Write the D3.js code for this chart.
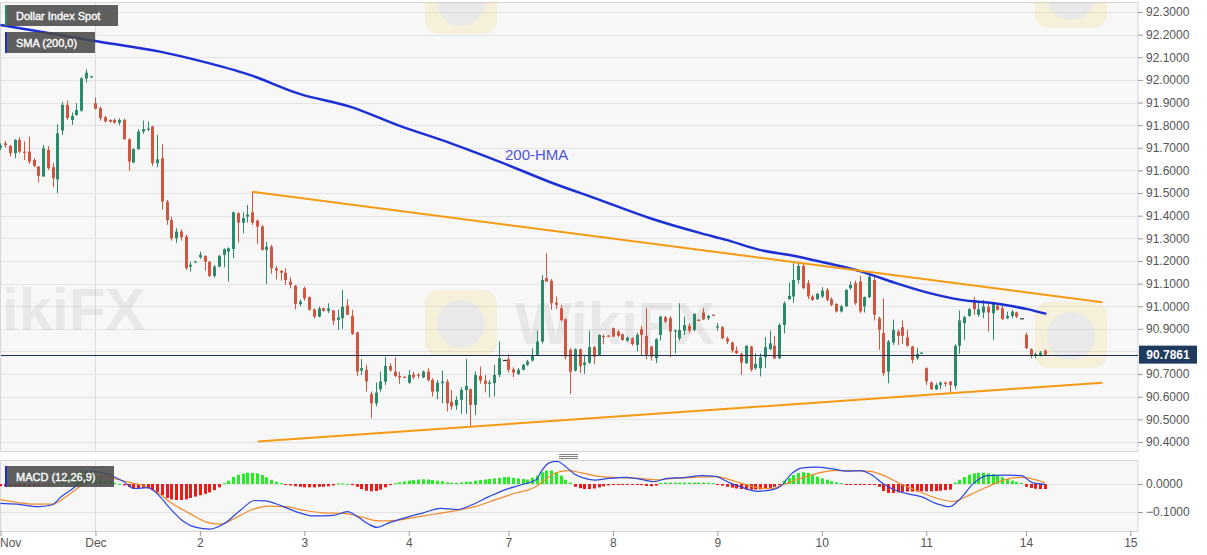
<!DOCTYPE html>
<html>
<head>
<meta charset="utf-8">
<script src="https://cdn.jsdelivr.net/npm/d3@7"></script>
<style>
  body { margin: 0; background: #fff; }
</style>
</head>
<body>
<div id="chart"></div>
<script>
// hourly bars, index 0 = first visible bar (30 Nov) ; [open, high, low, close]
const ohlc = [
  [91.700, 91.720, 91.690, 91.710], [91.720, 91.730, 91.700, 91.712], [91.708, 91.713, 91.661, 91.676], [91.676, 91.738, 91.654, 91.735],
  [91.735, 91.747, 91.676, 91.683], [91.683, 91.728, 91.646, 91.680], [91.683, 91.750, 91.629, 91.639], [91.646, 91.654, 91.614, 91.620],
  [91.617, 91.620, 91.548, 91.576], [91.573, 91.713, 91.573, 91.698], [91.691, 91.708, 91.602, 91.610], [91.614, 91.632, 91.526, 91.565],
  [91.561, 91.804, 91.499, 91.764], [91.776, 91.904, 91.757, 91.890], [91.890, 91.909, 91.823, 91.831], [91.823, 91.856, 91.801, 91.841],
  [91.845, 91.897, 91.841, 91.867], [91.864, 92.012, 91.860, 92.007], [92.006, 92.047, 91.988, 92.032], [92.012, 92.018, 92.010, 92.016],
  // 1 Dec
  [91.897, 91.922, 91.870, 91.872], [91.875, 91.882, 91.820, 91.831], [91.835, 91.841, 91.811, 91.817], [91.823, 91.826, 91.811, 91.815],
  [91.823, 91.830, 91.806, 91.811], [91.811, 91.830, 91.800, 91.823], [91.823, 91.830, 91.735, 91.738], [91.738, 91.742, 91.599, 91.639],
  [91.635, 91.698, 91.632, 91.694], [91.694, 91.782, 91.691, 91.772], [91.772, 91.820, 91.761, 91.783], [91.780, 91.816, 91.773, 91.785],
  [91.794, 91.797, 91.620, 91.632], [91.632, 91.757, 91.614, 91.649], [91.654, 91.716, 91.426, 91.462], [91.462, 91.470, 91.360, 91.380],
  [91.380, 91.395, 91.290, 91.300], [91.300, 91.345, 91.280, 91.330], [91.330, 91.340, 91.290, 91.305], [91.308, 91.315, 91.160, 91.168],
  [91.175, 91.197, 91.153, 91.183], [91.196, 91.200, 91.194, 91.198],
  // 2 Dec
  [91.216, 91.241, 91.209, 91.227], [91.222, 91.225, 91.158, 91.197], [91.197, 91.200, 91.130, 91.134], [91.134, 91.182, 91.126, 91.175],
  [91.175, 91.227, 91.172, 91.222], [91.227, 91.256, 91.172, 91.252], [91.241, 91.260, 91.109, 91.256], [91.253, 91.418, 91.212, 91.415],
  [91.411, 91.415, 91.281, 91.369], [91.369, 91.415, 91.322, 91.389], [91.396, 91.447, 91.369, 91.406], [91.415, 91.506, 91.359, 91.369],
  [91.378, 91.384, 91.275, 91.352], [91.352, 91.359, 91.246, 91.249], [91.249, 91.285, 91.098, 91.263], [91.263, 91.271, 91.143, 91.168],
  [91.168, 91.178, 91.119, 91.157], [91.156, 91.160, 91.113, 91.148], [91.148, 91.168, 91.094, 91.116], [91.109, 91.128, 91.079, 91.094],
  [91.090, 91.094, 90.986, 91.010], [91.009, 91.030, 91.000, 91.020],
  // 3 Dec
  [91.079, 91.087, 91.025, 91.035], [91.040, 91.043, 90.981, 90.984], [90.986, 90.991, 90.947, 90.954], [90.954, 90.998, 90.951, 90.991],
  [90.991, 90.994, 90.976, 90.979], [90.980, 91.013, 90.970, 90.990], [90.981, 90.984, 90.917, 90.936], [90.940, 90.984, 90.895, 90.950],
  [90.947, 91.072, 90.900, 90.998], [91.003, 91.031, 90.961, 90.962], [90.957, 90.984, 90.873, 90.878], [90.884, 90.888, 90.692, 90.711],
  [90.716, 90.766, 90.697, 90.726], [90.719, 90.741, 90.623, 90.667], [90.612, 90.623, 90.505, 90.571], [90.571, 90.663, 90.557, 90.618],
  [90.633, 90.711, 90.623, 90.667], [90.667, 90.777, 90.652, 90.736], [90.736, 90.748, 90.711, 90.716], [90.711, 90.774, 90.686, 90.692],
  [90.692, 90.711, 90.657, 90.685], [90.688, 90.690, 90.683, 90.686],
  // 4 Dec
  [90.662, 90.718, 90.657, 90.696], [90.698, 90.711, 90.677, 90.686], [90.698, 90.704, 90.682, 90.694], [90.686, 90.716, 90.682, 90.711],
  [90.711, 90.726, 90.667, 90.674], [90.674, 90.682, 90.601, 90.623], [90.623, 90.674, 90.589, 90.662], [90.660, 90.716, 90.571, 90.667],
  [90.667, 90.677, 90.535, 90.571], [90.578, 90.630, 90.542, 90.557], [90.561, 90.601, 90.542, 90.586], [90.586, 90.642, 90.524, 90.630],
  [90.630, 90.766, 90.524, 90.648], [90.633, 90.637, 90.471, 90.564], [90.564, 90.711, 90.520, 90.696], [90.692, 90.733, 90.657, 90.671],
  [90.671, 90.696, 90.619, 90.657], [90.657, 90.674, 90.598, 90.663], [90.660, 90.741, 90.601, 90.696], [90.696, 90.844, 90.686, 90.770],
  [90.763, 90.763, 90.763, 90.763],
  // 7 Dec
  [90.766, 90.788, 90.707, 90.719], [90.721, 90.730, 90.686, 90.707], [90.701, 90.726, 90.696, 90.719], [90.719, 90.745, 90.716, 90.741],
  [90.741, 90.763, 90.736, 90.756], [90.760, 90.814, 90.755, 90.785], [90.785, 90.892, 90.785, 90.844], [90.844, 91.138, 90.836, 91.116],
  [91.124, 91.234, 91.109, 91.109], [91.112, 91.120, 90.984, 91.013], [91.016, 91.043, 90.987, 91.006], [90.991, 91.006, 90.932, 90.939],
  [90.942, 90.947, 90.766, 90.777], [90.807, 90.814, 90.612, 90.711], [90.716, 90.814, 90.711, 90.810], [90.810, 90.814, 90.704, 90.736],
  [90.741, 90.785, 90.701, 90.751], [90.751, 90.892, 90.745, 90.819], [90.819, 90.825, 90.745, 90.777], [90.785, 90.876, 90.780, 90.873],
  [90.869, 90.876, 90.833, 90.863], [90.870, 90.872, 90.865, 90.868],
  // 8 Dec
  [90.903, 90.906, 90.863, 90.866], [90.888, 90.895, 90.863, 90.869], [90.876, 90.880, 90.847, 90.851], [90.848, 90.866, 90.844, 90.861],
  [90.858, 90.863, 90.825, 90.833], [90.829, 90.883, 90.800, 90.873], [90.898, 90.913, 90.785, 90.873], [90.869, 90.991, 90.766, 90.785],
  [90.822, 90.825, 90.760, 90.777], [90.770, 90.858, 90.748, 90.854], [90.873, 90.957, 90.848, 90.954], [90.951, 90.957, 90.925, 90.932],
  [90.947, 90.957, 90.774, 90.888], [90.888, 90.898, 90.792, 90.893], [90.858, 91.013, 90.848, 90.895], [90.892, 90.954, 90.873, 90.917],
  [90.913, 90.925, 90.880, 90.892], [90.895, 90.969, 90.888, 90.966], [90.940, 90.944, 90.934, 90.938], [90.972, 90.991, 90.939, 90.942],
  [90.947, 90.961, 90.939, 90.957], [90.962, 90.964, 90.958, 90.961],
  // 9 Dec
  [90.907, 90.925, 90.892, 90.911], [90.907, 90.913, 90.854, 90.858], [90.858, 90.866, 90.833, 90.844], [90.840, 90.844, 90.795, 90.804],
  [90.804, 90.822, 90.789, 90.792], [90.789, 90.795, 90.697, 90.751], [90.748, 90.828, 90.745, 90.825], [90.822, 90.825, 90.711, 90.719],
  [90.726, 90.792, 90.719, 90.745], [90.726, 90.792, 90.689, 90.774], [90.774, 90.863, 90.726, 90.819], [90.810, 90.892, 90.807, 90.836],
  [90.825, 90.869, 90.766, 90.770], [90.770, 90.925, 90.766, 90.917], [90.917, 91.021, 90.880, 91.013], [91.031, 91.105, 91.028, 91.046],
  [91.043, 91.190, 91.016, 91.116], [91.116, 91.190, 91.100, 91.178], [91.178, 91.190, 91.075, 91.080], [91.102, 91.116, 91.031, 91.043],
  [91.043, 91.050, 91.024, 91.028], [91.031, 91.058, 91.028, 91.055],
  // 10 Dec
  [91.043, 91.084, 91.036, 91.069], [91.072, 91.080, 91.021, 91.028], [91.031, 91.040, 90.999, 91.006], [91.010, 91.013, 90.972, 90.977],
  [90.977, 91.006, 90.972, 90.999], [90.999, 91.075, 90.999, 91.072], [91.080, 91.109, 91.072, 91.094], [91.102, 91.113, 91.006, 91.013],
  [91.109, 91.134, 90.969, 90.977], [90.999, 91.043, 90.972, 91.040], [91.040, 91.138, 91.036, 91.131], [91.116, 91.138, 90.937, 90.962],
  [90.947, 90.954, 90.807, 90.896], [90.881, 91.035, 90.692, 90.704], [90.711, 90.851, 90.660, 90.844], [90.840, 90.940, 90.829, 90.895],
  [90.888, 90.898, 90.829, 90.869], [90.907, 90.937, 90.833, 90.869], [90.863, 90.896, 90.822, 90.825], [90.822, 90.825, 90.748, 90.763],
  [90.770, 90.815, 90.763, 90.789], [90.791, 90.797, 90.789, 90.795],
  // 11 Dec
  [90.726, 90.730, 90.652, 90.667], [90.663, 90.667, 90.630, 90.633], [90.633, 90.660, 90.630, 90.652], [90.652, 90.667, 90.633, 90.663],
  [90.663, 90.667, 90.645, 90.657], [90.667, 90.670, 90.612, 90.652], [90.648, 90.832, 90.633, 90.825], [90.825, 90.981, 90.789, 90.937],
  [90.925, 90.957, 90.851, 90.951], [90.957, 90.991, 90.954, 90.987], [91.028, 91.040, 90.962, 90.987], [90.962, 91.021, 90.954, 90.987],
  [90.972, 91.028, 90.947, 90.999], [90.996, 91.013, 90.888, 90.972], [90.969, 91.016, 90.851, 91.010], [91.002, 91.013, 90.981, 90.984],
  [90.991, 91.010, 90.940, 90.943], [90.947, 90.976, 90.943, 90.957], [90.957, 90.984, 90.947, 90.976], [90.972, 90.976, 90.947, 90.954],
  [90.947, 90.947, 90.947, 90.947],
  // 14 Dec
  [90.873, 90.884, 90.810, 90.815], [90.810, 90.814, 90.770, 90.785], [90.781, 90.795, 90.770, 90.789], [90.780, 90.802, 90.778, 90.795],
  [90.803, 90.810, 90.781, 90.786]
];

// MACD histogram, one value per bar
const histValues = [
  -0.008, -0.008, -0.008, -0.008, -0.008, -0.008, -0.008, -0.008, -0.005, -0.003, -0.002, 0.002,
  0.005, 0.015, 0.025, 0.032, 0.038, 0.045, 0.048, 0.046,
  0.030, 0.020, 0.015, 0.010, 0.005, 0.001, -0.005, -0.010, -0.015, -0.015, -0.014, -0.016, -0.022, -0.030,
  -0.040, -0.050, -0.055, -0.057, -0.057, -0.055, -0.050, -0.045,
  -0.040, -0.035, -0.030, -0.022, -0.012, 0.003, 0.012, 0.025, 0.033, 0.037, 0.040, 0.040, 0.038, 0.032,
  0.024, 0.015, 0.008, 0.003, -0.003, -0.005, -0.008, -0.010,
  -0.012, -0.012, -0.012, -0.010, -0.010, -0.008, -0.005, 0.002, 0.002, 0.001, -0.004, -0.010, -0.018, -0.024,
  -0.026, -0.025, -0.020, -0.012, -0.004, 0.003, 0.006, 0.009,
  0.012, 0.014, 0.016, 0.017, 0.016, 0.014, 0.012, 0.010, 0.006, 0.004, 0.004, 0.006, 0.008, 0.008,
  0.012, 0.014, 0.016, 0.018, 0.020, 0.022, 0.025,
  0.025, 0.022, 0.020, 0.018, 0.016, 0.022, 0.030, 0.042, 0.048, 0.048, 0.042, 0.030, 0.015, 0.005,
  -0.010, -0.015, -0.018, -0.018, -0.016, -0.012, -0.008, -0.005,
  -0.002, -0.002, -0.002, -0.002, -0.002, -0.002, -0.004, -0.007, -0.008, -0.006, 0.004, 0.005, 0.005, 0.005,
  0.005, 0.005, 0.005, 0.005, 0.005, 0.005, 0.004, 0.003,
  -0.003, -0.006, -0.010, -0.013, -0.016, -0.018, -0.020, -0.020, -0.020, -0.019, -0.017, -0.014, -0.010, -0.004,
  0.012, 0.022, 0.032, 0.040, 0.042, 0.040, 0.033, 0.026,
  0.020, 0.015, 0.010, 0.006, 0.003, -0.002, -0.002, -0.003, -0.003, -0.002, -0.003, -0.004, -0.010, -0.025,
  -0.032, -0.032, -0.030, -0.028, -0.027, -0.027, -0.027, -0.026,
  -0.026, -0.026, -0.025, -0.024, -0.022, -0.020, 0.005, 0.015, 0.025, 0.033, 0.038, 0.040, 0.040, 0.038,
  0.035, 0.030, 0.024, 0.018, 0.012, 0.007, 0.004,
  -0.010, -0.014, -0.017, -0.018, -0.018
];

// MACD line and signal line, read at bar positions
const macdIdx = [0, 3.5, 7.9, 10.8, 12.9, 15.9, 18, 19.5, 20.9, 23.8, 26, 28.2, 31.1, 33.2, 35.4, 38.3, 41.2, 44.1, 47, 50.6,
  53.5, 55.7, 59.3, 63, 65.9, 70.2, 73.1, 75.3, 77.5, 79.3, 81.8, 85.4, 89.1, 92.7, 96.3, 99.2, 102.8, 106.5, 110.1, 113,
  113.6, 115.8, 117.3, 118.7, 120.9, 123.1, 125.2, 128.1, 131.8, 135.4, 137.6, 140.5, 144.1, 147.7, 150.6, 153.5, 156.4,
  159.3, 162.2, 164.4, 166.6, 168.7, 171.6, 175.3, 178.2, 181.1, 183.2, 186.1, 189.1, 191.9, 194.1, 197, 199.9, 202.1,
  205, 207.9, 211.5, 215.1, 217.3, 220];
const macdVal = [-0.069, -0.072, -0.081, -0.075, -0.044, -0.007, 0.030, 0.045, 0.042, 0.027, 0.008, -0.016, -0.013, -0.038,
  -0.081, -0.130, -0.155, -0.161, -0.143, -0.093, -0.059, -0.060, -0.079, -0.103, -0.114, -0.112, -0.099, -0.118, -0.143,
  -0.155, -0.139, -0.120, -0.103, -0.087, -0.091, -0.075, -0.046, -0.019, -0.001, 0.017,
  0.036, 0.077, 0.081, 0.067, 0.036, 0.020, 0.014, 0.020, 0.024, 0.015, 0.008, 0.020, 0.023, 0.030, 0.027, 0.005, -0.013,
  -0.026, -0.022, -0.007, 0.036, 0.057, 0.060, 0.054, 0.046, 0.048, 0.036, -0.001, -0.026, -0.038, -0.046, -0.069, -0.081,
  -0.054, 0.003, 0.030, 0.032, 0.030, 0.005, -0.001];

const signalIdx = [0, 3.5, 7.1, 10.8, 14.4, 17.3, 19.5, 21.6, 24.5, 27.5, 30.3, 33.2, 36.1, 39.8, 43.4, 46.3, 49.2, 52.8,
  56.4, 60.1, 63.7, 68, 72.4, 76, 79.6, 83.3, 86.9, 91.2, 95.6, 99.9, 104.3, 108.6, 111.5, 113, 114.4, 117.3, 119.5, 122.4,
  126, 130.3, 134.7, 138.3, 141.9, 146.3, 150.6, 155, 158.6, 162.2, 165.1, 168, 171.6, 175.3, 178.9, 183.2, 186.1, 189.8,
  193.4, 197, 200.7, 204.3, 207.9, 211.5, 215.1, 220];
const signalVal = [-0.056, -0.066, -0.072, -0.072, -0.038, -0.001, 0.024, 0.027, 0.017, 0.005, -0.007, -0.032, -0.069,
  -0.105, -0.136, -0.143, -0.124, -0.093, -0.079, -0.081, -0.093, -0.103, -0.105, -0.118, -0.132, -0.130, -0.120, -0.108,
  -0.096, -0.081, -0.056, -0.032, -0.019, -0.007, 0.011, 0.042, 0.048, 0.040, 0.027, 0.023, 0.020, 0.015, 0.020, 0.024,
  0.026, 0.008, -0.010, -0.017, -0.001, 0.017, 0.036, 0.048, 0.048, 0.045, 0.030, -0.001, -0.026, -0.050, -0.062, -0.038,
  -0.010, 0.015, 0.024, 0.005];

// 200-hour SMA
const smaIdx = [0, 20.9, 33.6, 42, 52.5, 63, 73.6, 84.1, 94.6, 105.2, 115.7, 126.2, 136.7, 147.3, 152.9, 159.9, 167.3,
  174.2, 181.4, 184.1, 188.3, 195.3, 202.4, 209.4, 212.9, 216.3, 220.3];
const smaVal = [92.243, 92.169, 92.125, 92.084, 92.022, 91.938, 91.882, 91.797, 91.722, 91.638, 91.549, 91.470, 91.390,
  91.324, 91.293, 91.249, 91.222, 91.190, 91.153, 91.134, 91.104, 91.060, 91.028, 91.013, 91.001, 90.987, 90.966];

// triangle trend lines: [bar index, price]
const upperTrend = [[53, 91.506], [232.1, 91.018]];
const lowerTrend = [[54.2, 90.402], [232.1, 90.662]];

const dayTicks = [0, 20, 42, 64, 86, 107, 129, 151, 173, 195, 216, 238];
const dayLabels = ["Nov", "Dec", "2", "3", "4", "7", "8", "9", "10", "11", "14", "15"];
const priceTicks = [92.3, 92.2, 92.1, 92.0, 91.9, 91.8, 91.7, 91.6, 91.5, 91.4, 91.3, 91.2, 91.1, 91.0, 90.9, 90.7, 90.6, 90.5, 90.4];
const priceGrid = [92.3, 92.2, 92.1, 92.0, 91.9, 91.8, 91.7, 91.6, 91.5, 91.4, 91.3, 91.2, 91.1, 91.0, 90.9, 90.8, 90.7, 90.6, 90.5, 90.4];
const macdTicks = [0, -0.1];
const lastPrice = 90.7861;

const drawChart = () => {

    // 1. Dimenzije
    const dims = {
        width: 1207,
        height: 555,
        plotRight: 1138,
        price: { top: 2, bottom: 451 },
        macd: { top: 460, bottom: 531 }
    };
    const font = "Arial, 'Liberation Sans', sans-serif";
    const colors = {
        up: "#2b8a6b",
        down: "#d2553f",
        flat: "#333",
        sma: "#1b2fd4",
        trend: "#f59a12",
        macd: "#2a45dd",
        signal: "#f08a2a",
        histUp: "#22ee22",
        histDown: "#ee1a1a"
    };

    const svg = d3.select("#chart")
        .append("svg")
            .attr("width", dims.width)
            .attr("height", dims.height)
            .style("font-family", font);

    // 2. Mjerila
    const xScale = d3.scaleLinear()
        .domain([-0.1, 239.4])
        .range([0, 1137]);

    const yPrice = d3.scaleLinear()
        .domain([90.4, 92.3])
        .range([442, 12]);

    const yMacd = d3.scaleLinear()
        .domain([-0.1, 0])
        .range([512, 484]);

    // 3. Panel pozadine
    [dims.price, dims.macd].forEach((p, k) => {
        svg.append("rect")
            .attr("x", 0.5).attr("y", p.top + 0.5)
            .attr("width", dims.plotRight - 0.5)
            .attr("height", p.bottom - p.top)
            .attr("fill", "#f7f7f8")
            .attr("stroke", "#d6d6d6");
        svg.append("clipPath").attr("id", "clip" + k)
            .append("rect")
                .attr("x", 0).attr("y", p.top)
                .attr("width", dims.plotRight).attr("height", p.bottom - p.top);
    });

    // mreza
    svg.append("g").selectAll("line")
        .data(priceGrid)
        .join("line")
            .attr("x1", 1).attr("x2", dims.plotRight)
            .attr("y1", d => Math.round(yPrice(d)) + 0.5)
            .attr("y2", d => Math.round(yPrice(d)) + 0.5)
            .attr("stroke", "#e3e3e5");

    svg.append("g").selectAll("line")
        .data(macdTicks)
        .join("line")
            .attr("x1", 1).attr("x2", dims.plotRight)
            .attr("y1", d => Math.round(yMacd(d)) + 0.5)
            .attr("y2", d => Math.round(yMacd(d)) + 0.5)
            .attr("stroke", "#e3e3e5");

    // vertikalna linija za pocetak mjeseca
    [dims.price, dims.macd].forEach(p => {
        svg.append("line")
            .attr("x1", Math.round(xScale(20)) + 0.5).attr("x2", Math.round(xScale(20)) + 0.5)
            .attr("y1", p.top + 1).attr("y2", p.bottom)
            .attr("stroke", "#dcdcdc");
    });

    // vodeni zig (samo unutar panela)
    const mark = svg.append("g").attr("opacity", 0.12).attr("clip-path", "url(#clip0)");
    [[425, 290], [1035, 302], [425, -32], [1035, -38]].forEach(([x, y]) => {
        mark.append("rect")
            .attr("x", x).attr("y", y).attr("width", 72).attr("height", 66).attr("rx", 14)
            .attr("fill", "#f2b705");
        mark.append("circle")
            .attr("cx", x + 36).attr("cy", y + 34).attr("r", 24)
            .attr("fill", "#888");
    });
    [[2, 330, "ikiFX"], [515, 344, "WikiFX"]].forEach(([x, y, t]) => {
        mark.append("text")
            .attr("x", x).attr("y", y)
            .attr("font-size", 60).attr("font-weight", "bold")
            .attr("fill", "#808080")
            .text(t);
    });

    // 4. Svijece
    const candles = svg.append("g").attr("clip-path", "url(#clip0)");
    const candleColor = d => d[3] > d[0] ? colors.up : d[3] < d[0] ? colors.down : colors.flat;

    candles.selectAll(".wick")
        .data(ohlc)
        .join("line")
            .attr("class", "wick")
            .attr("x1", (d, i) => Math.round(xScale(i)) + 0.5)
            .attr("x2", (d, i) => Math.round(xScale(i)) + 0.5)
            .attr("y1", d => yPrice(d[1]))
            .attr("y2", d => yPrice(d[2]))
            .attr("stroke", candleColor);

    candles.selectAll(".body")
        .data(ohlc)
        .join("rect")
            .attr("class", "body")
            .attr("x", (d, i) => Math.round(xScale(i)) - 1)
            .attr("y", d => yPrice(Math.max(d[0], d[3])))
            .attr("width", d => d[0] === d[3] ? 4 : 3)
            .attr("height", d => Math.max(1.2, Math.abs(yPrice(d[0]) - yPrice(d[3]))))
            .attr("fill", candleColor);

    // SMA 200
    const smaLine = d3.line()
        .x(d => xScale(d[0]))
        .y(d => yPrice(d[1]))
        .curve(d3.curveMonotoneX);

    candles.append("path")
        .datum(smaIdx.map((d, i) => [d, smaVal[i]]))
        .attr("d", smaLine)
        .attr("fill", "none")
        .attr("stroke", colors.sma)
        .attr("stroke-width", 2.5);

    // trend linije
    const trendLine = d3.line()
        .x(d => xScale(d[0]))
        .y(d => yPrice(d[1]));

    [upperTrend, lowerTrend].forEach(t => {
        candles.append("path")
            .datum(t)
            .attr("d", trendLine)
            .attr("fill", "none")
            .attr("stroke", colors.trend)
            .attr("stroke-width", 2);
    });

    svg.append("text")
        .attr("x", 505).attr("y", 160)
        .attr("font-size", 15)
        .attr("fill", "#5151dc")
        .text("200-HMA");

    // zadnja cijena
    svg.append("line")
        .attr("x1", 1).attr("x2", dims.plotRight)
        .attr("y1", Math.round(yPrice(lastPrice)) + 0.5)
        .attr("y2", Math.round(yPrice(lastPrice)) + 0.5)
        .attr("stroke", "#1d2f4f");

    // 5. MACD panel
    const macdG = svg.append("g").attr("clip-path", "url(#clip1)");

    macdG.selectAll("rect")
        .data(histValues)
        .join("rect")
            .attr("x", (d, i) => Math.round(xScale(i)) - 1)
            .attr("y", d => Math.min(yMacd(0), yMacd(d)))
            .attr("width", 3)
            .attr("height", d => Math.max(1, Math.abs(yMacd(d) - yMacd(0))))
            .attr("fill", d => d >= 0 ? colors.histUp : colors.histDown);

    const macdPath = d3.line()
        .x(d => xScale(d[0]))
        .y(d => yMacd(d[1]))
        .curve(d3.curveMonotoneX);

    macdG.append("path")
        .datum(signalIdx.map((d, i) => [d, signalVal[i]]))
        .attr("d", macdPath)
        .attr("fill", "none")
        .attr("stroke", colors.signal)
        .attr("stroke-width", 1.2);

    macdG.append("path")
        .datum(macdIdx.map((d, i) => [d, macdVal[i]]))
        .attr("d", macdPath)
        .attr("fill", "none")
        .attr("stroke", colors.macd)
        .attr("stroke-width", 1.2);

    // rucka izmedu panela
    [454.5, 456.5, 458.5].forEach(y => {
        svg.append("line")
            .attr("x1", 559).attr("x2", 578)
            .attr("y1", y).attr("y2", y)
            .attr("stroke", "#808080");
    });

    // 6. Osi
    const styleAxis = g => {
        g.select(".domain").remove();
        g.selectAll(".tick line").attr("stroke", "#9a9a9a");
        g.selectAll(".tick text")
            .attr("fill", "#555")
            .attr("font-size", 12)
            .attr("font-family", font);
    };

    svg.append("g")
        .attr("transform", `translate(${dims.plotRight},0)`)
        .call(d3.axisRight(yPrice).tickValues(priceTicks).tickSize(5).tickPadding(3).tickFormat(d3.format(".4f")))
        .call(styleAxis);

    svg.append("g")
        .attr("transform", `translate(${dims.plotRight},0)`)
        .call(d3.axisRight(yMacd).tickValues(macdTicks).tickSize(5).tickPadding(3).tickFormat(d3.format(".4f")))
        .call(styleAxis);

    const xAxis = svg.append("g")
        .attr("transform", `translate(0,${dims.macd.bottom})`)
        .call(d3.axisBottom(xScale).tickValues(dayTicks).tickSize(5).tickPadding(2).tickFormat((d, i) => dayLabels[i]))
        .call(styleAxis);
    xAxis.select(".tick text").attr("text-anchor", "start").attr("x", -1);

    // oznaka zadnje cijene
    const py = yPrice(lastPrice);
    svg.append("rect")
        .attr("x", 1139).attr("y", py - 9)
        .attr("width", 58).attr("height", 18)
        .attr("fill", "#1f3a5c");
    svg.append("text")
        .attr("x", 1168).attr("y", py + 4.5)
        .attr("text-anchor", "middle")
        .attr("font-size", 12).attr("font-weight", "bold")
        .attr("fill", "#fff")
        .text(d3.format(".4f")(lastPrice));

    // 7. Legende
    const legend = (x, y, w, accent, label) => {
        svg.append("rect")
            .attr("x", x).attr("y", y).attr("width", w).attr("height", 21)
            .attr("fill", "#4a4a4a").attr("opacity", 0.88);
        svg.append("rect")
            .attr("x", x).attr("y", y).attr("width", 2).attr("height", 21)
            .attr("fill", accent);
        svg.append("text")
            .attr("x", x + 11).attr("y", y + 15)
            .attr("font-size", 11)
            .attr("fill", "#fff")
            .attr("stroke", "#fff").attr("stroke-width", 0.35)
            .text(label);
    };
    legend(5, 5, 113, "#2b8a6b", "Dollar Index Spot");
    legend(5, 32, 90, "#1b2fd4", "SMA (200,0)");
    legend(5, 466, 109, "#1b2fd4", "MACD (12,26,9)");
};

drawChart();
</script>
</body>
</html>
